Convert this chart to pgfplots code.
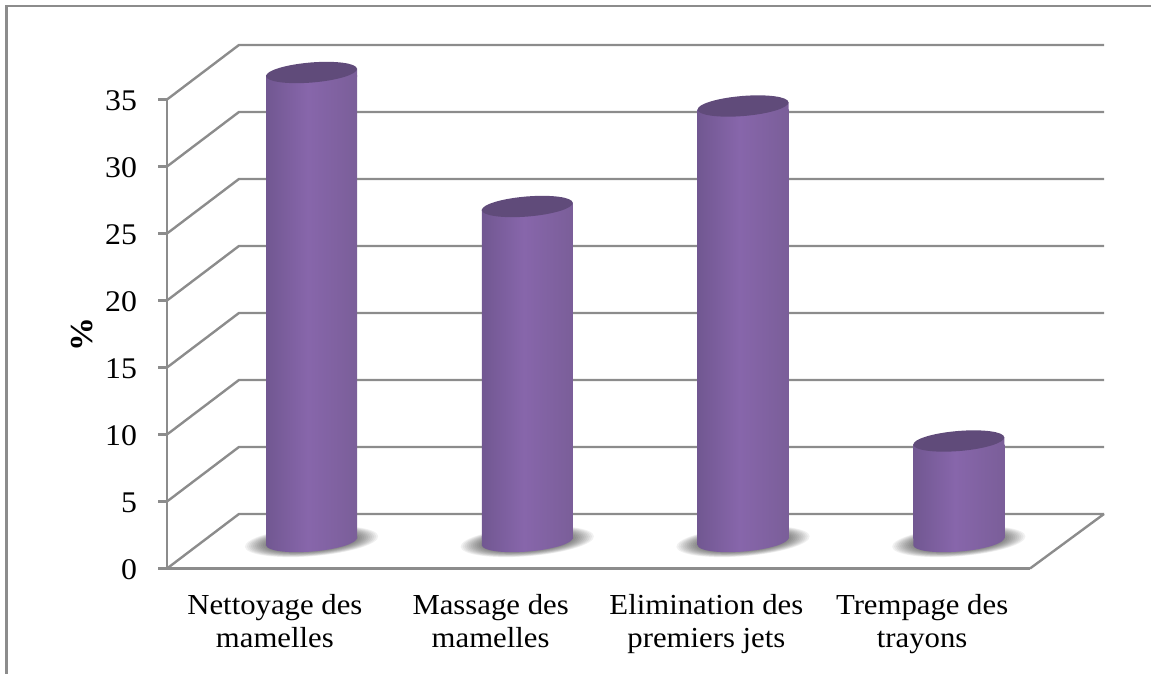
\documentclass[border=0pt]{standalone}
\usepackage{fontspec}
\setmainfont{Liberation Serif}[FakeStretch=1.06]
\usepackage{pgfplots}
\pgfplotsset{compat=1.18}
\definecolor{gridc}{RGB}{140,140,140}
\definecolor{topc}{RGB}{96,75,122}
\pgfdeclarehorizontalshading{cyl}{100bp}{
  rgb(0bp)=(0.27,0.21,0.36);
  rgb(6bp)=(0.32,0.25,0.42);
  rgb(16bp)=(0.41,0.32,0.53);
  rgb(48bp)=(0.53,0.40,0.67);
  rgb(75bp)=(0.48,0.37,0.60);
  rgb(90bp)=(0.36,0.28,0.45);
  rgb(100bp)=(0.27,0.21,0.34)}
\pgfdeclareplotmark{cylbot}{%
  \pgfpathmoveto{\pgfqpoint{-34.1pt}{-2.8pt}}%
  \pgfpathlineto{\pgfqpoint{34.1pt}{2.8pt}}%
  \pgfpathlineto{\pgfqpoint{34.1pt}{4pt}}%
  \pgfpathlineto{\pgfqpoint{-34.1pt}{4pt}}\pgfpathclose
  \pgfpathellipse{\pgfpointorigin}{\pgfqpoint{34.1pt}{2.8pt}}{\pgfqpoint{-0.6pt}{7.5pt}}%
  \pgfseteorule\pgfsetnonzerorule
  \pgfshadepath{cyl}{0}\pgfusepath{discard}}
\pgfdeclareplotmark{cylband}{%
  \pgfpathmoveto{\pgfqpoint{-34.1pt}{-2.8pt}}%
  \pgfpathlineto{\pgfqpoint{34.1pt}{2.8pt}}%
  \pgfpathlineto{\pgfqpoint{34.1pt}{-3.5pt}}%
  \pgfpathlineto{\pgfqpoint{-34.1pt}{-3.5pt}}\pgfpathclose
  \pgfshadepath{cyl}{0}\pgfusepath{discard}}
\pgfdeclareplotmark{cyltop}{%
  \pgfpathellipse{\pgfpointorigin}{\pgfqpoint{34.1pt}{2.8pt}}{\pgfqpoint{-0.6pt}{7.5pt}}%
  \pgfsetfillcolor{topc}\pgfusepathqfill}
\pgfdeclareplotmark{shadow}{%
  \pgfsetfillcolor{black}\pgfsetfillopacity{0.055}%
  \foreach \s in {1.00,0.97,0.94,0.91,0.88,0.85,0.82,0.79,0.76,0.73,0.70}{%
    \pgfpathellipse{\pgfpointorigin}{\pgfpoint{\s*50pt}{\s*4pt}}{\pgfpoint{\s*-0.8pt}{\s*11pt}}%
    \pgfusepathqfill}}
\begin{document}
\begin{tikzpicture}
\path[use as bounding box] (-125.25pt,-79.125pt) rectangle (738pt,426.375pt);
\begin{axis}[
  at={(0pt,0pt)}, anchor=south west,
  scale only axis, width=647.25pt, height=351.75pt,
  xmin=-0.5, xmax=3.5, ymin=0, ymax=35,
  clip=false,
  axis lines*=left,
  axis line style={-, gridc, line width=2pt},
  xtick={0,1,2,3},
  xticklabels={{Nettoyage des\\mamelles},{Massage des\\mamelles},{Elimination des\\premiers jets},{Trempage des\\trayons}},
  x tick style={draw=none},
  xticklabel style={align=center, font=\fontsize{21.75}{24.75}\selectfont, yshift=-9pt},
  ytick={0,5,10,15,20,25,30,35},
  y tick style={gridc, line width=2pt},
  tick align=outside, major tick length=6.5pt,
  yticklabel style={font=\fontsize{22.5}{25}\selectfont, xshift=-12.5pt, yshift=-1pt},
  /pgf/number format/assume math mode=true,
  ylabel={\%},
  every axis y label/.style={at={(rel axis cs:0,0.498)}, xshift=-64pt, rotate=90, anchor=center, font=\fontsize{24}{26}\selectfont\bfseries},
]
% walls: depth line and back line of each level
\pgfplotsinvokeforeach{0,5,10,15,20,25,30,35}{
  \addplot[gridc, line width=1.8pt, forget plot] coordinates {(-0.5,#1) (-0.1663,#1+4.07) (3.843,#1+4.07)};
}
\addplot[gridc, line width=1.8pt, forget plot] coordinates {(3.5,0) (3.843,4.07)};
% soft shadow on the floor
\addplot[only marks, mark=shadow, xshift=27.5pt, yshift=20.25pt, forget plot] coordinates {(0,0) (1,0) (2,0) (3,0)};
% cylinder foot
\addplot[only marks, mark=cylbot, xshift=27.5pt, yshift=20.25pt, forget plot] coordinates {(0,0) (1,0) (2,0) (3,0)};
\end{axis}
\begin{axis}[
  at={(0pt,0pt)}, anchor=south west,
  scale only axis, width=647.25pt, height=351.75pt,
  xmin=-0.5, xmax=3.5, ymin=0, ymax=35,
  clip=false, hide axis,
]
% cylinder bodies
\pgfplotsset{cylbar/.style={ybar, bar width=68.25pt, bar shift=0pt, draw=none, shading=cyl, xshift=27.5pt, yshift=22.75pt, y filter/.expression={y-0.5}, forget plot}}
\addplot[cylbar] coordinates {(0,35)};
\addplot[cylbar] coordinates {(1,25)};
\addplot[cylbar] coordinates {(2,32.5)};
\addplot[cylbar] coordinates {(3,7.5)};
% tilted band under the top
\addplot[only marks, mark=cylband, xshift=27.5pt, yshift=20.25pt, forget plot]
  coordinates {(0,35) (1,25) (2,32.5) (3,7.5)};
% cylinder top
\addplot[only marks, mark=cyltop, xshift=27.5pt, yshift=20.25pt, forget plot]
  coordinates {(0,35) (1,25) (2,32.5) (3,7.5)};
\end{axis}
\draw[gridc, line width=1.8pt] (738pt,421.875pt) -- (-120.375pt,421.875pt) -- (-120.375pt,-79.125pt);
\end{tikzpicture}
\end{document}
